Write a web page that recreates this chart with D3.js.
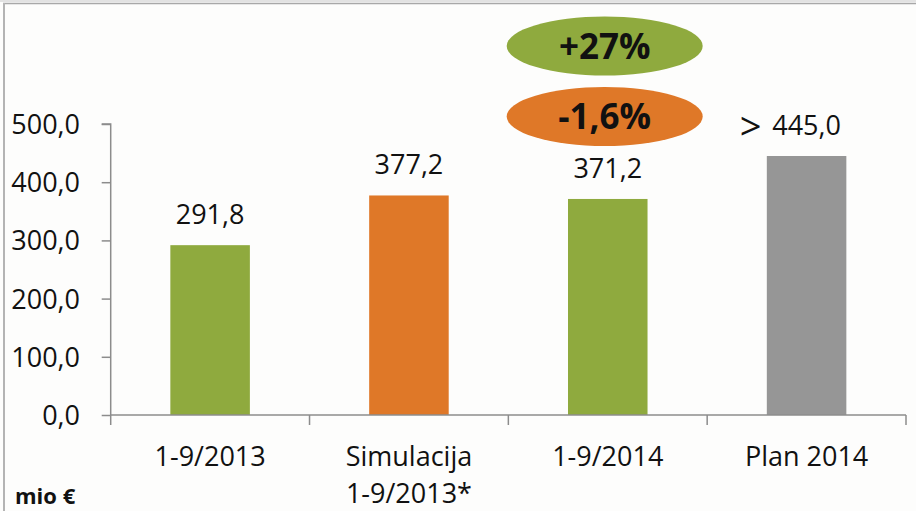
<!DOCTYPE html>
<html><head><meta charset="utf-8">
<script src="https://cdn.jsdelivr.net/npm/d3@7"></script>
<style>html,body{margin:0;padding:0;background:#fff;}svg{display:block;}</style>
</head><body>
<script>
const categories = [["1-9/2013"], ["Simulacija", "1-9/2013*"], ["1-9/2014"], ["Plan 2014"]];
const catKeys = ["c1", "c2", "c3", "c4"];
const values = [291.8, 377.2, 371.2, 445.0];
const valueLabels = ["291,8", "377,2", "371,2", "445,0"];
const barColors = ["#8faa3e", "#df7828", "#8faa3e", "#969696"];
const yTicks = [0, 100, 200, 300, 400, 500];
const badges = [{text: "+27%", color: "#8faa3e"}, {text: "-1,6%", color: "#df7828"}];
const unitLabel = "mio €";

const W = 916, H = 511;
const svg = d3.select("body").append("svg").attr("width", W).attr("height", H);
svg.append("rect").attr("width", W).attr("height", H).attr("fill", "#fdfdfc");
// frame
svg.append("line").attr("x1", 0).attr("x2", W).attr("y1", 1).attr("y2", 1).attr("stroke", "#c8c8c8").attr("stroke-width", 1.2);
svg.append("line").attr("x1", 3).attr("x2", W).attr("y1", 3.5).attr("y2", 3.5).attr("stroke", "#a8a8a8").attr("stroke-width", 1.5);
svg.append("line").attr("x1", 4).attr("x2", 4).attr("y1", 3).attr("y2", H).attr("stroke", "#b4b4b4").attr("stroke-width", 2);

const font = "'Open Sans', 'Noto Sans', sans-serif";
const fs = 27;
const x0 = 110.7, x1 = 906, yTop = 124, yBot = 415;
const x = d3.scaleBand().domain(catKeys).range([x0, x1]).padding(0);
const y = d3.scaleLinear().domain([0, 500]).range([yBot, yTop]);
const barW = x.bandwidth() * 0.4;

// y axis
const yAxis = d3.axisLeft(y).tickValues(yTicks).tickSize(9).tickFormat(d => d3.format(".1f")(d).replace(".", ","));
const gy = svg.append("g").attr("transform", `translate(${x0},0)`).call(yAxis);
gy.select(".domain").attr("stroke", "#8c8c8c").attr("stroke-width", 1.5).attr("d", `M-9,${yTop}H0V${yBot}`);
gy.selectAll(".tick line").attr("stroke", "#8c8c8c").attr("stroke-width", 1.5);
gy.selectAll(".tick text").attr("x", -30.7).attr("dy", "0.35em").attr("font-family", font).attr("font-size", fs).attr("fill", "#111");

// bars
svg.selectAll("rect.bar").data(values).enter().append("rect").attr("class", "bar")
  .attr("x", (d, i) => x(catKeys[i]) + (x.bandwidth() - barW) / 2)
  .attr("width", barW)
  .attr("y", d => y(d))
  .attr("height", d => yBot - y(d))
  .attr("fill", (d, i) => barColors[i]);

// x axis
const xAxis = d3.axisBottom(x).tickSize(0).tickFormat("");
const gx = svg.append("g").attr("transform", `translate(0,${yBot})`).call(xAxis);
gx.select(".domain").attr("stroke", "#8c8c8c").attr("stroke-width", 1.5).attr("d", `M${x0},0H${x1}`);
const bounds = catKeys.map(k => x(k)).concat([x1]);
gx.selectAll("line.sep").data(bounds).enter().append("line").attr("class", "sep")
  .attr("x1", d => d).attr("x2", d => d).attr("y1", 0).attr("y2", 10)
  .attr("stroke", "#8c8c8c").attr("stroke-width", 1.5);

// category labels
categories.forEach((lines, i) => {
  const t = svg.append("text").attr("text-anchor", "middle").attr("font-family", font).attr("font-size", fs).attr("fill", "#111");
  lines.forEach((l, j) => {
    t.append("tspan").attr("x", x(catKeys[i]) + x.bandwidth() / 2).attr("y", 466 + j * 37).text(l);
  });
});

// value labels
svg.selectAll("text.val").data(values).enter().append("text").attr("class", "val")
  .attr("x", (d, i) => x(catKeys[i]) + x.bandwidth() / 2)
  .attr("y", d => y(d) - 21)
  .attr("text-anchor", "middle").attr("font-family", font).attr("font-size", fs).attr("fill", "#111")
  .text((d, i) => valueLabels[i]);

// ">" before plan value
svg.append("text").attr("x", x(catKeys[3]) + x.bandwidth() / 2 - 56).attr("y", y(values[3]) - 16)
  .attr("text-anchor", "middle").attr("font-family", font).attr("font-size", 38).attr("fill", "#111").text(">");

// badges
const bcx = 604.7;
const bcy = [46, 116.5];
badges.forEach((b, i) => {
  svg.append("ellipse").attr("cx", bcx).attr("cy", bcy[i]).attr("rx", 98).attr("ry", 29.5).attr("fill", b.color);
  svg.append("text").attr("x", bcx).attr("y", bcy[i] + 12.5).attr("text-anchor", "middle")
    .attr("font-family", font).attr("font-weight", "bold").attr("font-size", 35).attr("fill", "#111").text(b.text);
});

// unit label
svg.append("text").attr("x", 15).attr("y", 504).attr("font-family", font).attr("font-weight", "bold").attr("font-size", 22).attr("fill", "#111").text(unitLabel);
</script>
</body></html>
